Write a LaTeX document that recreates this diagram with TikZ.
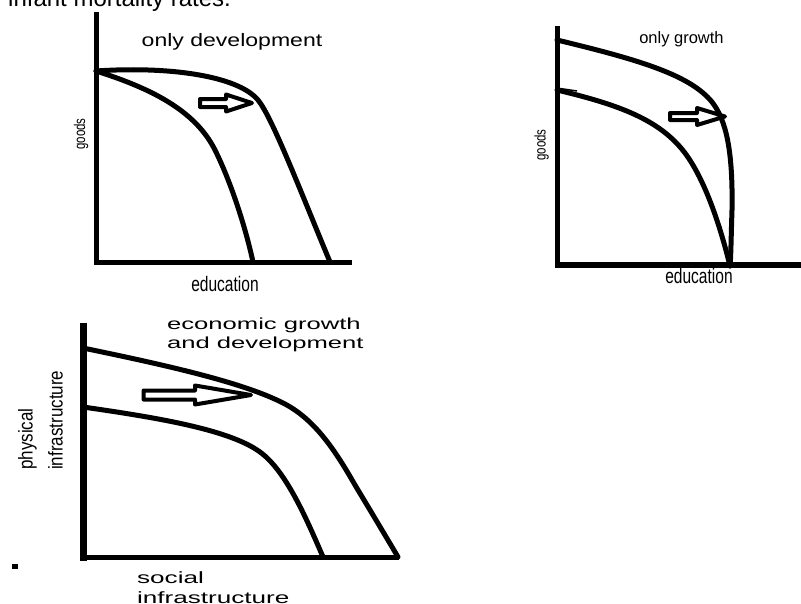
\documentclass[tikz,border=0pt]{standalone}
\usepackage{fontspec}
\setmainfont{Liberation Sans}
\newfontfamily\widefont[FakeStretch=1.6]{Liberation Sans}
\newfontfamily\midfont[FakeStretch=1.28]{Liberation Sans}
\newfontfamily\narrowfont[FakeStretch=0.74]{Liberation Sans}
\newfontfamily\slimfont[FakeStretch=0.85]{Liberation Sans}

\begin{document}
\begin{tikzpicture}[x=1pt,y=-1pt,
    every node/.style={inner sep=0pt},
    axis/.style={line width=5.5pt},
    curve/.style={line width=5pt,line cap=round,line join=round},
    hollow/.style={draw,fill=white,line width=4pt,line join=round},
    goodsname/.style={rotate=90,font=\narrowfont\fontsize{15.5}{18}\selectfont},
    eduname/.style={anchor=base,font=\narrowfont\fontsize{21}{24}\selectfont}]
  \useasboundingbox (0,0) rectangle (801,603);

  % Caption line, cut at the top
  \node[anchor=base west,font=\fontsize{24}{28}\selectfont] (title) at (8,6) {infant mortality rates.};

  % Only development
  \draw[axis] (96.5,12) -- (96.5,265);
  \draw[axis] (94,262.5) -- (352,262.5);
  \draw[curve] (96,71) .. controls (150,88) and (195,110) .. (215,150)
    .. controls (230,180) and (245,225) .. (253,262);
  \draw[curve] (96,71) .. controls (170,66) and (238,76) .. (258,100)
    .. controls (272,117) and (300,190) .. (330,262);
  \draw[hollow] (200,99) -- (226,99) -- (226,94.5) -- (252,103) -- (226,111.5)
    -- (226,107) -- (200,107) -- cycle;
  \node[anchor=base,font=\midfont\fontsize{18}{22}\selectfont] (devTitle) at (232,46) {only development};
  \node[goodsname] (devY) at (81,134) {goods};
  \node[eduname] (devX) at (225,291.5) {education};

  % Only growth
  \draw[axis] (557.5,26) -- (557.5,267.5);
  \draw[axis] (555,265) -- (801,265);
  \draw[curve] (557,90) .. controls (620,105) and (660,120) .. (685,153)
    .. controls (705,180) and (720,225) .. (730,266);
  \draw[curve] (557,40) .. controls (640,60) and (690,75) .. (712,102)
    .. controls (726,120) and (733,150) .. (732,210)
    .. controls (731,240) and (731,255) .. (730,266);
  \draw[line width=1.5pt] (560,88.5) -- (577,91);
  \draw[hollow] (670,113) -- (697,113) -- (697,108) -- (725,116.5) -- (697,125)
    -- (697,120) -- (670,120) -- cycle;
  \node[anchor=base,font=\fontsize{16.5}{20}\selectfont] (growTitle) at (681.5,43.5) {only growth};
  \node[goodsname] (growY) at (541.7,145) {goods};
  \node[eduname] (growX) at (699,283) {education};

  % Growth and development
  \draw[line width=7pt] (83,323) -- (83,560.5);
  \draw[axis] (80,557.5) -- (399,557.5);
  \draw[curve] (83,407) .. controls (160,418) and (230,430) .. (260,452)
    .. controls (285,470) and (305,515) .. (323,557);
  \draw[curve] (83,348) .. controls (170,366) and (245,383) .. (285,404)
    .. controls (315,420) and (335,450) .. (355,485)
    .. controls (370,510) and (385,535) .. (398,557);
  \draw[hollow] (143.5,390.5) -- (195,390.5) -- (195,385.5) -- (251,395) -- (195,404.5)
    -- (195,399.5) -- (143.5,399.5) -- cycle;
  \node[anchor=north west,align=left,font=\widefont\fontsize{16}{19}\selectfont] (bothTitle) at (167,318)
    {economic growth\\and development};
  \node[anchor=north west,align=left,font=\widefont\fontsize{16.3}{20}\selectfont] (bothX) at (137,571.7)
    {social\\infrastructure};
  \node[anchor=north west,align=left,rotate=90,font=\slimfont\fontsize{20}{30}\selectfont] (bothY) at (18,470)
    {physical\\infrastructure};
  \fill (11.5,564) rectangle (17.5,569);
\end{tikzpicture}
\end{document}
